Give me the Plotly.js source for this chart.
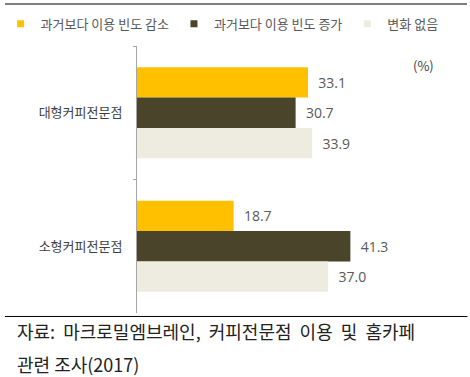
<!DOCTYPE html>
<html><head><meta charset="utf-8">
<script src="https://cdn.plot.ly/plotly-3.0.1.min.js"></script>
<style>
html,body{margin:0;padding:0;background:#fff;}
#wrap{position:relative;width:470px;height:377px;}
#chart{width:470px;height:377px;}
#toprule{position:absolute;left:5px;top:3px;width:462px;height:2px;background:#7f7f7f;z-index:10;pointer-events:none;}
</style>
</head><body><div id="wrap"><div id="chart"></div><div id="toprule"></div></div>
<script>
const categories = ['대형커피전문점', '소형커피전문점'];
const seriesNames = ['과거보다 이용 빈도 감소', '과거보다 이용 빈도 증가', '변화 없음'];
const decreased = [33.1, 18.7];
const increased = [30.7, 41.3];
const noChange = [33.9, 37.0];
const colors = ['#FFC000', '#4A452A', '#EEECE1'];
const sourceLine1 = '자료:\u00a0\u00a0마크로밀엠브레인,\u00a0\u00a0커피전문점\u00a0\u00a0이용\u00a0\u00a0및\u00a0\u00a0홈카페';
const sourceLine2 = '관련 조사(2017)';

const seriesValues = [decreased, increased, noChange];
const traces = [];
seriesValues.forEach((vals, i) => {
  traces.push({
    type: 'bar', orientation: 'h', y: categories, x: vals, name: seriesNames[i],
    marker: {color: colors[i]}, showlegend: false,
    text: vals.map(v => v.toFixed(1)), texttemplate: '\u00a0\u00a0%{text}',
    textposition: 'outside', cliponaxis: false,
    textfont: {family: 'Open Sans, sans-serif', size: 14, color: '#595959'},
    hoverinfo: 'skip'
  });
});
seriesValues.forEach((vals, i) => {
  traces.push({
    type: 'scatter', mode: 'markers', x: [null], y: [null], name: seriesNames[i],
    marker: {symbol: 'square', size: 7, color: colors[i]}, showlegend: true, hoverinfo: 'skip'
  });
});

const layout = {
  width: 470, height: 377,
  margin: {l: 137, r: 23, t: 46, b: 64, autoexpand: false},
  paper_bgcolor: '#fff', plot_bgcolor: '#fff',
  barmode: 'group', bargap: 0.32, bargroupgap: 0,
  showlegend: true,
  legend: {orientation: 'h', x: -0.44, xanchor: 'left', y: 1.083, yanchor: 'middle',
    font: {family: 'Noto Sans CJK KR, sans-serif', size: 13, color: '#595959'},
    itemwidth: 30, bgcolor: 'rgba(0,0,0,0)'},
  xaxis: {range: [0, 60], visible: false, showgrid: false, zeroline: false, fixedrange: true},
  yaxis: {type: 'category', autorange: 'reversed', tickson: 'boundaries', ticks: 'outside', ticklen: 3,
    tickcolor: '#a6a6a6', showline: true, linecolor: '#a6a6a6', linewidth: 1, showgrid: false,
    ticklabelstandoff: 11,
    tickfont: {family: 'Noto Sans CJK KR, sans-serif', size: 13, color: '#404040'}},
  shapes: [
    {type: 'line', xref: 'paper', yref: 'paper', x0: -0.426, x1: 1.066, y0: -0.013, y1: -0.013, line: {color: '#000', width: 1}}
  ],
  annotations: [
    {xref: 'paper', yref: 'paper', x: 0.966, y: 0.97, text: '(%)', showarrow: false,
      font: {family: 'Noto Sans CJK KR, sans-serif', size: 13, color: '#404040'}},
    {xref: 'paper', yref: 'paper', x: -0.394, y: -0.067, xanchor: 'left', yanchor: 'middle', text: sourceLine1, showarrow: false,
      font: {family: 'Noto Sans CJK KR, sans-serif', size: 18, color: '#222'}},
    {xref: 'paper', yref: 'paper', x: -0.394, y: -0.19, xanchor: 'left', yanchor: 'middle', text: sourceLine2, showarrow: false,
      font: {family: 'Noto Sans CJK KR, sans-serif', size: 18, color: '#222'}}
  ]
};
Plotly.newPlot('chart', traces, layout, {displayModeBar: false, staticPlot: true});
</script></body></html>
